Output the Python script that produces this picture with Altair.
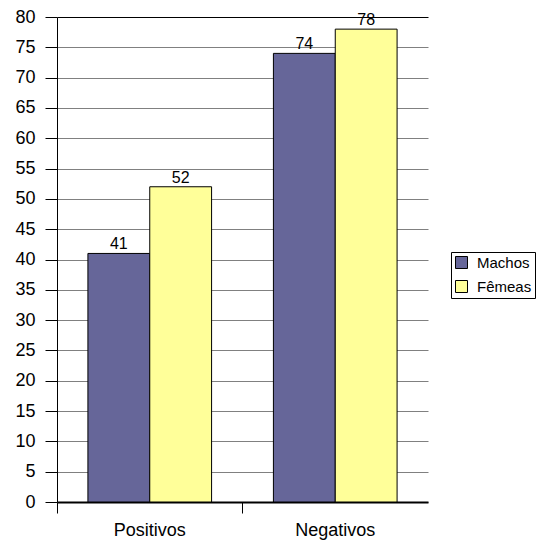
import altair as alt
import pandas as pd

categories = ["Positivos", "Negativos"]
series = ["Machos", "Fêmeas"]
machos = [41, 74]
femeas = [52, 78]
colors = ["#666699", "#FFFF99"]
y_ticks = list(range(0, 81, 5))

rows = []
for i, c in enumerate(categories):
    rows.append({"grupo": c, "sexo": series[0], "valor": machos[i]})
    rows.append({"grupo": c, "sexo": series[1], "valor": femeas[i]})
df = pd.DataFrame(rows)

FONT = "Liberation Sans"

base = alt.Chart(df).encode(
    x=alt.X(
        "grupo:N",
        sort=categories,
        scale=alt.Scale(paddingInner=0, paddingOuter=0),
        axis=alt.Axis(
            title=None, labelAngle=0, bandPosition=0, tickExtra=False, grid=False,
            domainColor="black", domainWidth=2, tickColor="black", tickSize=11,
            labelFontSize=18, labelFont=FONT, labelColor="black", labelPadding=8,
        ),
    ),
    xOffset=alt.XOffset(
        "sexo:N", sort=series,
        scale=alt.Scale(paddingInner=0, paddingOuter=0.5),
    ),
    y=alt.Y(
        "valor:Q",
        scale=alt.Scale(domain=[0, 80], nice=False),
        axis=alt.Axis(
            title=None, values=y_ticks, tickSize=12, tickColor="black",
            domainColor="black", labelFontSize=18, labelFont=FONT,
            labelColor="black", labelPadding=10,
            gridColor=alt.condition("datum.value == 80", alt.value("black"), alt.value("#808080")),
            gridWidth=1,
        ),
    ),
)

bars = base.mark_bar(stroke="black", strokeWidth=1).encode(
    color=alt.Color(
        "sexo:N", sort=series,
        scale=alt.Scale(domain=series, range=colors),
        legend=alt.Legend(
            orient="none", legendX=394, legendY=235, title=None,
            symbolType="square", symbolSize=144, symbolStrokeColor="black",
            symbolStrokeWidth=1, symbolOpacity=1, labelFontSize=15, labelFont=FONT,
            labelColor="black", strokeColor="black", fillColor="white",
            padding=3, rowPadding=7, labelOffset=8,
        ),
    )
)

labels = base.mark_text(
    baseline="bottom", dy=-1, fontSize=16, font=FONT, color="black"
).encode(text="valor:Q")

chart = alt.layer(bars, labels).properties(
    width=371, height=485,
    autosize=alt.AutoSizeParams(type="none"),
    padding={"left": 57, "top": 17, "right": 108, "bottom": 40},
).configure_view(stroke=None)

chart.save("out.html", embed_options={"renderer": "svg", "actions": False})
